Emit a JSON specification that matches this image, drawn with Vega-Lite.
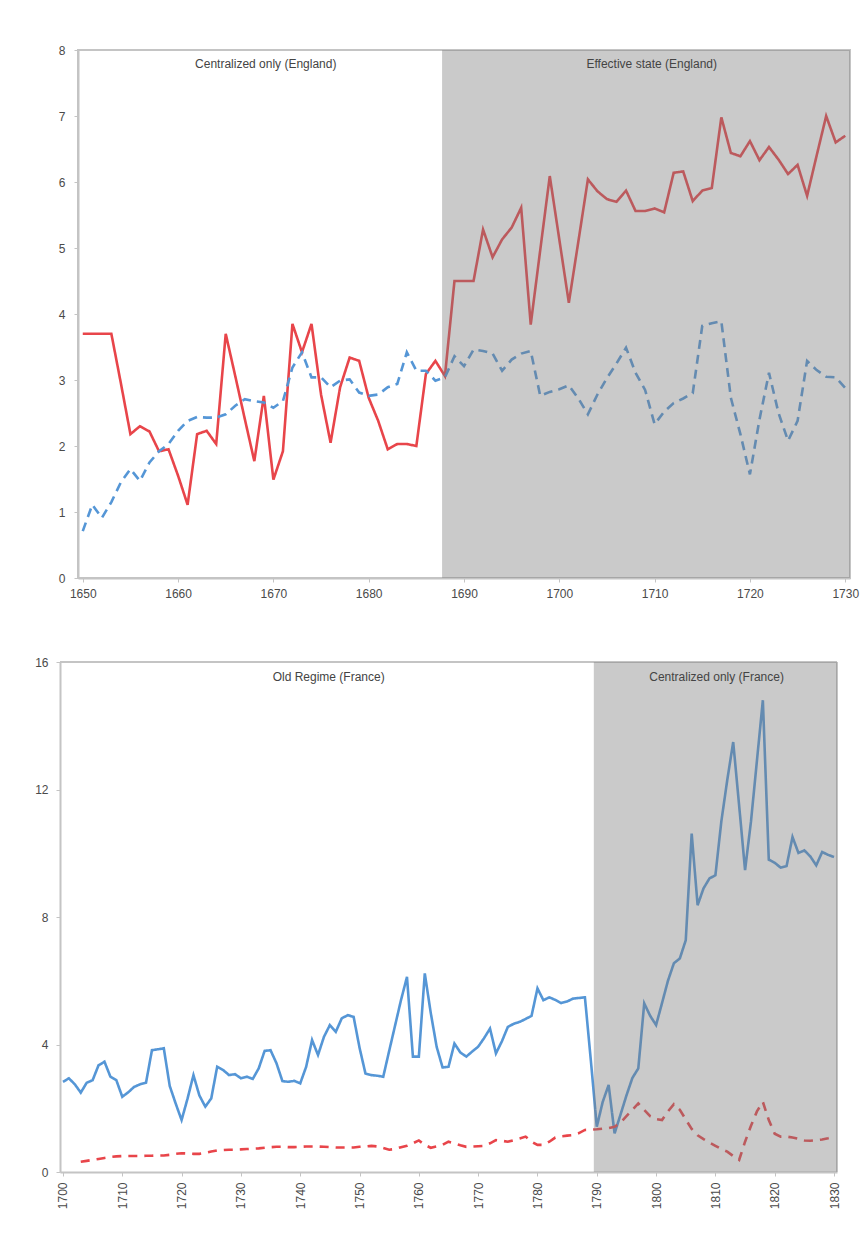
{
  "$schema": "https://vega.github.io/schema/vega-lite/v6.json",
  "background": "white",
  "padding": {"left": 34, "top": 43, "right": 10, "bottom": 10},
  "spacing": 56,
  "resolve": {"scale": {"color": "independent", "strokeDash": "independent"}},
  "config": {
    "view": {"stroke": "#c4c4c4", "strokeWidth": 2},
    "axis": {"labelFont": "Liberation Sans", "labelFontSize": 12, "labelColor": "#4a4a4a", "domainColor": "#c4c4c4", "domainWidth": 2, "tickColor": "#c4c4c4", "tickSize": 4, "grid": false, "title": null},
    "text": {"font": "Liberation Sans", "fontSize": 12, "color": "#444444"}
  },
  "datasets": {
    "england": [
      {"year":1650,"series":"A","value":3.70},{"year":1651,"series":"A","value":3.70},{"year":1652,"series":"A","value":3.70},{"year":1653,"series":"A","value":3.70},{"year":1654,"series":"A","value":2.95},{"year":1655,"series":"A","value":2.18},{"year":1656,"series":"A","value":2.30},{"year":1657,"series":"A","value":2.22},{"year":1658,"series":"A","value":1.92},{"year":1659,"series":"A","value":1.95},{"year":1660,"series":"A","value":1.55},{"year":1661,"series":"A","value":1.11},{"year":1662,"series":"A","value":2.18},{"year":1663,"series":"A","value":2.23},{"year":1664,"series":"A","value":2.03},{"year":1665,"series":"A","value":3.70},{"year":1666,"series":"A","value":3.06},{"year":1667,"series":"A","value":2.41},{"year":1668,"series":"A","value":1.77},{"year":1669,"series":"A","value":2.76},{"year":1670,"series":"A","value":1.49},{"year":1671,"series":"A","value":1.92},{"year":1672,"series":"A","value":3.85},{"year":1673,"series":"A","value":3.42},{"year":1674,"series":"A","value":3.85},{"year":1675,"series":"A","value":2.78},{"year":1676,"series":"A","value":2.05},{"year":1677,"series":"A","value":2.89},{"year":1678,"series":"A","value":3.34},{"year":1679,"series":"A","value":3.29},{"year":1680,"series":"A","value":2.73},{"year":1681,"series":"A","value":2.38},{"year":1682,"series":"A","value":1.95},{"year":1683,"series":"A","value":2.03},{"year":1684,"series":"A","value":2.03},{"year":1685,"series":"A","value":2.00},{"year":1686,"series":"A","value":3.09},{"year":1687,"series":"A","value":3.29},{"year":1688,"series":"A","value":3.06},{"year":1689,"series":"A","value":4.50},{"year":1690,"series":"A","value":4.50},{"year":1691,"series":"A","value":4.50},{"year":1692,"series":"A","value":5.28},{"year":1693,"series":"A","value":4.86},{"year":1694,"series":"A","value":5.13},{"year":1695,"series":"A","value":5.31},{"year":1696,"series":"A","value":5.61},{"year":1697,"series":"A","value":3.84},{"year":1698,"series":"A","value":4.97},{"year":1699,"series":"A","value":6.09},{"year":1700,"series":"A","value":5.13},{"year":1701,"series":"A","value":4.17},{"year":1702,"series":"A","value":5.10},{"year":1703,"series":"A","value":6.04},{"year":1704,"series":"A","value":5.86},{"year":1705,"series":"A","value":5.74},{"year":1706,"series":"A","value":5.70},{"year":1707,"series":"A","value":5.87},{"year":1708,"series":"A","value":5.56},{"year":1709,"series":"A","value":5.56},{"year":1710,"series":"A","value":5.60},{"year":1711,"series":"A","value":5.54},{"year":1712,"series":"A","value":6.14},{"year":1713,"series":"A","value":6.16},{"year":1714,"series":"A","value":5.71},{"year":1715,"series":"A","value":5.87},{"year":1716,"series":"A","value":5.91},{"year":1717,"series":"A","value":6.98},{"year":1718,"series":"A","value":6.44},{"year":1719,"series":"A","value":6.39},{"year":1720,"series":"A","value":6.62},{"year":1721,"series":"A","value":6.33},{"year":1722,"series":"A","value":6.53},{"year":1723,"series":"A","value":6.34},{"year":1724,"series":"A","value":6.12},{"year":1725,"series":"A","value":6.26},{"year":1726,"series":"A","value":5.79},{"year":1727,"series":"A","value":6.40},{"year":1728,"series":"A","value":7.00},{"year":1729,"series":"A","value":6.60},{"year":1730,"series":"A","value":6.70},
      {"year":1650,"series":"B","value":0.71},{"year":1651,"series":"B","value":1.11},{"year":1652,"series":"B","value":0.91},{"year":1653,"series":"B","value":1.15},{"year":1654,"series":"B","value":1.45},{"year":1655,"series":"B","value":1.65},{"year":1656,"series":"B","value":1.47},{"year":1657,"series":"B","value":1.75},{"year":1658,"series":"B","value":1.92},{"year":1659,"series":"B","value":2.03},{"year":1660,"series":"B","value":2.23},{"year":1661,"series":"B","value":2.38},{"year":1662,"series":"B","value":2.44},{"year":1663,"series":"B","value":2.43},{"year":1664,"series":"B","value":2.43},{"year":1665,"series":"B","value":2.48},{"year":1666,"series":"B","value":2.61},{"year":1667,"series":"B","value":2.71},{"year":1668,"series":"B","value":2.68},{"year":1669,"series":"B","value":2.66},{"year":1670,"series":"B","value":2.58},{"year":1671,"series":"B","value":2.68},{"year":1672,"series":"B","value":3.19},{"year":1673,"series":"B","value":3.42},{"year":1674,"series":"B","value":3.04},{"year":1675,"series":"B","value":3.04},{"year":1676,"series":"B","value":2.89},{"year":1677,"series":"B","value":2.99},{"year":1678,"series":"B","value":3.01},{"year":1679,"series":"B","value":2.81},{"year":1680,"series":"B","value":2.76},{"year":1681,"series":"B","value":2.78},{"year":1682,"series":"B","value":2.89},{"year":1683,"series":"B","value":2.94},{"year":1684,"series":"B","value":3.42},{"year":1685,"series":"B","value":3.14},{"year":1686,"series":"B","value":3.14},{"year":1687,"series":"B","value":2.99},{"year":1688,"series":"B","value":3.04},{"year":1689,"series":"B","value":3.36},{"year":1690,"series":"B","value":3.21},{"year":1691,"series":"B","value":3.46},{"year":1692,"series":"B","value":3.44},{"year":1693,"series":"B","value":3.40},{"year":1694,"series":"B","value":3.14},{"year":1695,"series":"B","value":3.31},{"year":1696,"series":"B","value":3.40},{"year":1697,"series":"B","value":3.44},{"year":1698,"series":"B","value":2.76},{"year":1699,"series":"B","value":2.82},{"year":1700,"series":"B","value":2.86},{"year":1701,"series":"B","value":2.92},{"year":1702,"series":"B","value":2.72},{"year":1703,"series":"B","value":2.48},{"year":1704,"series":"B","value":2.78},{"year":1705,"series":"B","value":3.03},{"year":1706,"series":"B","value":3.25},{"year":1707,"series":"B","value":3.49},{"year":1708,"series":"B","value":3.11},{"year":1709,"series":"B","value":2.85},{"year":1710,"series":"B","value":2.33},{"year":1711,"series":"B","value":2.52},{"year":1712,"series":"B","value":2.65},{"year":1713,"series":"B","value":2.72},{"year":1714,"series":"B","value":2.80},{"year":1715,"series":"B","value":3.82},{"year":1716,"series":"B","value":3.86},{"year":1717,"series":"B","value":3.89},{"year":1718,"series":"B","value":2.73},{"year":1719,"series":"B","value":2.18},{"year":1720,"series":"B","value":1.57},{"year":1721,"series":"B","value":2.40},{"year":1722,"series":"B","value":3.11},{"year":1723,"series":"B","value":2.50},{"year":1724,"series":"B","value":2.08},{"year":1725,"series":"B","value":2.38},{"year":1726,"series":"B","value":3.29},{"year":1727,"series":"B","value":3.15},{"year":1728,"series":"B","value":3.05},{"year":1729,"series":"B","value":3.04},{"year":1730,"series":"B","value":2.88}
    ],
    "france": [
      {"year":1700,"series":"A","value":2.83},{"year":1701,"series":"A","value":2.94},{"year":1702,"series":"A","value":2.75},{"year":1703,"series":"A","value":2.49},{"year":1704,"series":"A","value":2.80},{"year":1705,"series":"A","value":2.88},{"year":1706,"series":"A","value":3.35},{"year":1707,"series":"A","value":3.46},{"year":1708,"series":"A","value":2.99},{"year":1709,"series":"A","value":2.88},{"year":1710,"series":"A","value":2.36},{"year":1711,"series":"A","value":2.50},{"year":1712,"series":"A","value":2.67},{"year":1713,"series":"A","value":2.75},{"year":1714,"series":"A","value":2.80},{"year":1715,"series":"A","value":3.82},{"year":1716,"series":"A","value":3.85},{"year":1717,"series":"A","value":3.88},{"year":1718,"series":"A","value":2.70},{"year":1719,"series":"A","value":2.15},{"year":1720,"series":"A","value":1.63},{"year":1721,"series":"A","value":2.30},{"year":1722,"series":"A","value":3.04},{"year":1723,"series":"A","value":2.40},{"year":1724,"series":"A","value":2.05},{"year":1725,"series":"A","value":2.31},{"year":1726,"series":"A","value":3.30},{"year":1727,"series":"A","value":3.20},{"year":1728,"series":"A","value":3.04},{"year":1729,"series":"A","value":3.07},{"year":1730,"series":"A","value":2.94},{"year":1731,"series":"A","value":2.99},{"year":1732,"series":"A","value":2.92},{"year":1733,"series":"A","value":3.25},{"year":1734,"series":"A","value":3.80},{"year":1735,"series":"A","value":3.82},{"year":1736,"series":"A","value":3.41},{"year":1737,"series":"A","value":2.85},{"year":1738,"series":"A","value":2.83},{"year":1739,"series":"A","value":2.86},{"year":1740,"series":"A","value":2.78},{"year":1741,"series":"A","value":3.30},{"year":1742,"series":"A","value":4.14},{"year":1743,"series":"A","value":3.67},{"year":1744,"series":"A","value":4.24},{"year":1745,"series":"A","value":4.61},{"year":1746,"series":"A","value":4.40},{"year":1747,"series":"A","value":4.82},{"year":1748,"series":"A","value":4.92},{"year":1749,"series":"A","value":4.87},{"year":1750,"series":"A","value":3.90},{"year":1751,"series":"A","value":3.09},{"year":1752,"series":"A","value":3.04},{"year":1753,"series":"A","value":3.02},{"year":1754,"series":"A","value":2.99},{"year":1755,"series":"A","value":3.80},{"year":1756,"series":"A","value":4.60},{"year":1757,"series":"A","value":5.40},{"year":1758,"series":"A","value":6.12},{"year":1759,"series":"A","value":3.62},{"year":1760,"series":"A","value":3.62},{"year":1761,"series":"A","value":6.23},{"year":1762,"series":"A","value":5.00},{"year":1763,"series":"A","value":3.93},{"year":1764,"series":"A","value":3.28},{"year":1765,"series":"A","value":3.30},{"year":1766,"series":"A","value":4.03},{"year":1767,"series":"A","value":3.75},{"year":1768,"series":"A","value":3.62},{"year":1769,"series":"A","value":3.78},{"year":1770,"series":"A","value":3.93},{"year":1771,"series":"A","value":4.20},{"year":1772,"series":"A","value":4.50},{"year":1773,"series":"A","value":3.72},{"year":1774,"series":"A","value":4.10},{"year":1775,"series":"A","value":4.55},{"year":1776,"series":"A","value":4.65},{"year":1777,"series":"A","value":4.71},{"year":1778,"series":"A","value":4.80},{"year":1779,"series":"A","value":4.90},{"year":1780,"series":"A","value":5.76},{"year":1781,"series":"A","value":5.39},{"year":1782,"series":"A","value":5.48},{"year":1783,"series":"A","value":5.40},{"year":1784,"series":"A","value":5.30},{"year":1785,"series":"A","value":5.35},{"year":1786,"series":"A","value":5.44},{"year":1787,"series":"A","value":5.46},{"year":1788,"series":"A","value":5.48},{"year":1789,"series":"A","value":3.50},{"year":1790,"series":"A","value":1.42},{"year":1791,"series":"A","value":2.20},{"year":1792,"series":"A","value":2.73},{"year":1793,"series":"A","value":1.21},{"year":1794,"series":"A","value":1.80},{"year":1795,"series":"A","value":2.40},{"year":1796,"series":"A","value":2.95},{"year":1797,"series":"A","value":3.25},{"year":1798,"series":"A","value":5.29},{"year":1799,"series":"A","value":4.90},{"year":1800,"series":"A","value":4.61},{"year":1801,"series":"A","value":5.30},{"year":1802,"series":"A","value":6.00},{"year":1803,"series":"A","value":6.55},{"year":1804,"series":"A","value":6.70},{"year":1805,"series":"A","value":7.27},{"year":1806,"series":"A","value":10.62},{"year":1807,"series":"A","value":8.37},{"year":1808,"series":"A","value":8.90},{"year":1809,"series":"A","value":9.21},{"year":1810,"series":"A","value":9.31},{"year":1811,"series":"A","value":11.00},{"year":1812,"series":"A","value":12.30},{"year":1813,"series":"A","value":13.49},{"year":1814,"series":"A","value":11.50},{"year":1815,"series":"A","value":9.47},{"year":1816,"series":"A","value":11.00},{"year":1817,"series":"A","value":12.90},{"year":1818,"series":"A","value":14.80},{"year":1819,"series":"A","value":9.80},{"year":1820,"series":"A","value":9.70},{"year":1821,"series":"A","value":9.55},{"year":1822,"series":"A","value":9.60},{"year":1823,"series":"A","value":10.51},{"year":1824,"series":"A","value":10.01},{"year":1825,"series":"A","value":10.09},{"year":1826,"series":"A","value":9.90},{"year":1827,"series":"A","value":9.62},{"year":1828,"series":"A","value":10.04},{"year":1829,"series":"A","value":9.95},{"year":1830,"series":"A","value":9.88},
      {"year":1703,"series":"B","value":0.32},{"year":1704,"series":"B","value":0.35},{"year":1705,"series":"B","value":0.38},{"year":1706,"series":"B","value":0.41},{"year":1707,"series":"B","value":0.44},{"year":1708,"series":"B","value":0.47},{"year":1709,"series":"B","value":0.49},{"year":1710,"series":"B","value":0.50},{"year":1711,"series":"B","value":0.50},{"year":1712,"series":"B","value":0.50},{"year":1713,"series":"B","value":0.50},{"year":1714,"series":"B","value":0.51},{"year":1715,"series":"B","value":0.51},{"year":1716,"series":"B","value":0.52},{"year":1717,"series":"B","value":0.52},{"year":1718,"series":"B","value":0.54},{"year":1719,"series":"B","value":0.57},{"year":1720,"series":"B","value":0.59},{"year":1721,"series":"B","value":0.58},{"year":1722,"series":"B","value":0.57},{"year":1723,"series":"B","value":0.57},{"year":1724,"series":"B","value":0.60},{"year":1725,"series":"B","value":0.64},{"year":1726,"series":"B","value":0.68},{"year":1727,"series":"B","value":0.69},{"year":1728,"series":"B","value":0.70},{"year":1729,"series":"B","value":0.70},{"year":1730,"series":"B","value":0.71},{"year":1731,"series":"B","value":0.72},{"year":1732,"series":"B","value":0.73},{"year":1733,"series":"B","value":0.74},{"year":1734,"series":"B","value":0.76},{"year":1735,"series":"B","value":0.78},{"year":1736,"series":"B","value":0.79},{"year":1737,"series":"B","value":0.79},{"year":1738,"series":"B","value":0.78},{"year":1739,"series":"B","value":0.78},{"year":1740,"series":"B","value":0.79},{"year":1741,"series":"B","value":0.80},{"year":1742,"series":"B","value":0.80},{"year":1743,"series":"B","value":0.80},{"year":1744,"series":"B","value":0.79},{"year":1745,"series":"B","value":0.78},{"year":1746,"series":"B","value":0.77},{"year":1747,"series":"B","value":0.77},{"year":1748,"series":"B","value":0.77},{"year":1749,"series":"B","value":0.77},{"year":1750,"series":"B","value":0.79},{"year":1751,"series":"B","value":0.80},{"year":1752,"series":"B","value":0.82},{"year":1753,"series":"B","value":0.80},{"year":1754,"series":"B","value":0.75},{"year":1755,"series":"B","value":0.70},{"year":1756,"series":"B","value":0.72},{"year":1757,"series":"B","value":0.78},{"year":1758,"series":"B","value":0.82},{"year":1759,"series":"B","value":0.90},{"year":1760,"series":"B","value":0.99},{"year":1761,"series":"B","value":0.85},{"year":1762,"series":"B","value":0.76},{"year":1763,"series":"B","value":0.80},{"year":1764,"series":"B","value":0.85},{"year":1765,"series":"B","value":0.95},{"year":1766,"series":"B","value":0.90},{"year":1767,"series":"B","value":0.84},{"year":1768,"series":"B","value":0.79},{"year":1769,"series":"B","value":0.80},{"year":1770,"series":"B","value":0.81},{"year":1771,"series":"B","value":0.82},{"year":1772,"series":"B","value":0.90},{"year":1773,"series":"B","value":1.00},{"year":1774,"series":"B","value":0.98},{"year":1775,"series":"B","value":0.95},{"year":1776,"series":"B","value":1.00},{"year":1777,"series":"B","value":1.05},{"year":1778,"series":"B","value":1.11},{"year":1779,"series":"B","value":0.95},{"year":1780,"series":"B","value":0.85},{"year":1781,"series":"B","value":0.85},{"year":1782,"series":"B","value":0.95},{"year":1783,"series":"B","value":1.08},{"year":1784,"series":"B","value":1.12},{"year":1785,"series":"B","value":1.14},{"year":1786,"series":"B","value":1.16},{"year":1787,"series":"B","value":1.22},{"year":1788,"series":"B","value":1.32},{"year":1789,"series":"B","value":1.33},{"year":1790,"series":"B","value":1.34},{"year":1791,"series":"B","value":1.36},{"year":1792,"series":"B","value":1.38},{"year":1793,"series":"B","value":1.42},{"year":1794,"series":"B","value":1.55},{"year":1795,"series":"B","value":1.75},{"year":1796,"series":"B","value":1.95},{"year":1797,"series":"B","value":2.15},{"year":1798,"series":"B","value":1.95},{"year":1799,"series":"B","value":1.75},{"year":1800,"series":"B","value":1.66},{"year":1801,"series":"B","value":1.63},{"year":1802,"series":"B","value":1.90},{"year":1803,"series":"B","value":2.13},{"year":1804,"series":"B","value":1.95},{"year":1805,"series":"B","value":1.65},{"year":1806,"series":"B","value":1.35},{"year":1807,"series":"B","value":1.15},{"year":1808,"series":"B","value":1.03},{"year":1809,"series":"B","value":0.92},{"year":1810,"series":"B","value":0.82},{"year":1811,"series":"B","value":0.72},{"year":1812,"series":"B","value":0.64},{"year":1813,"series":"B","value":0.50},{"year":1814,"series":"B","value":0.38},{"year":1815,"series":"B","value":0.95},{"year":1816,"series":"B","value":1.45},{"year":1817,"series":"B","value":1.90},{"year":1818,"series":"B","value":2.20},{"year":1819,"series":"B","value":1.63},{"year":1820,"series":"B","value":1.20},{"year":1821,"series":"B","value":1.11},{"year":1822,"series":"B","value":1.11},{"year":1823,"series":"B","value":1.08},{"year":1824,"series":"B","value":1.04},{"year":1825,"series":"B","value":0.99},{"year":1826,"series":"B","value":0.98},{"year":1827,"series":"B","value":1.00},{"year":1828,"series":"B","value":1.02},{"year":1829,"series":"B","value":1.06},{"year":1830,"series":"B","value":1.11}
    ],
    "englandShade": [{"start": 1687.7, "end": 1730.5}],
    "franceShade": [{"start": 1789.5, "end": 1830.5}],
    "franceFrameTop": [{"start": 1699.5, "end": 1830.5, "value": 16}],
    "franceFrameRight": [{"year": 1830.5, "low": 0, "high": 16}],
    "englandLabels": [
      {"year": 1669.2, "value": 7.79, "label": "Centralized only (England)"},
      {"year": 1709.7, "value": 7.79, "label": "Effective state (England)"}
    ],
    "franceLabels": [
      {"year": 1744.8, "value": 15.52, "label": "Old Regime (France)"},
      {"year": 1810.2, "value": 15.52, "label": "Centralized only (France)"}
    ]
  },
  "vconcat": [
    {
      "width": 772,
      "height": 528,
      "layer": [
        {
          "data": {"name": "england"},
          "mark": {"type": "line", "strokeWidth": 2.6},
          "encoding": {
            "x": {"field": "year", "type": "quantitative", "scale": {"domain": [1649.5, 1730.5], "nice": false, "zero": false}, "axis": {"values": [1650,1660,1670,1680,1690,1700,1710,1720,1730], "format": "d", "labelPadding": 6}},
            "y": {"field": "value", "type": "quantitative", "scale": {"domain": [0, 8], "nice": false}, "axis": {"values": [0,1,2,3,4,5,6,7,8], "format": "d", "labelPadding": 9}},
            "color": {"field": "series", "type": "nominal", "scale": {"domain": ["A", "B"], "range": ["#e8454a", "#5596d6"]}, "legend": null},
            "strokeDash": {"field": "series", "type": "nominal", "scale": {"domain": ["A", "B"], "range": [[1, 0], [9, 6]]}, "legend": null}
          }
        },
        {
          "data": {"name": "englandShade"},
          "mark": {"type": "rect", "color": "#7a7a7a", "opacity": 0.4},
          "encoding": {
            "x": {"field": "start", "type": "quantitative"},
            "x2": {"field": "end"}
          }
        },
        {
          "data": {"name": "englandLabels"},
          "mark": {"type": "text", "baseline": "middle", "align": "center"},
          "encoding": {
            "x": {"field": "year", "type": "quantitative"},
            "y": {"field": "value", "type": "quantitative"},
            "text": {"field": "label"}
          }
        }
      ]
    },
    {
      "width": 759,
      "height": 510,
      "view": {"stroke": null},
      "layer": [
        {
          "data": {"name": "france"},
          "mark": {"type": "line", "strokeWidth": 2.6},
          "encoding": {
            "x": {"field": "year", "type": "quantitative", "scale": {"domain": [1699.5, 1830.5], "range": [-18, 759], "nice": false, "zero": false}, "axis": {"values": [1700,1710,1720,1730,1740,1750,1760,1770,1780,1790,1800,1810,1820,1830], "format": "d", "labelAngle": 270, "labelPadding": 6}},
            "y": {"field": "value", "type": "quantitative", "scale": {"domain": [0, 16], "nice": false}, "axis": {"values": [0,4,8,12,16], "format": "d", "labelPadding": 8, "offset": 18}},
            "color": {"field": "series", "type": "nominal", "scale": {"domain": ["A", "B"], "range": ["#5596d6", "#e8454a"]}, "legend": null},
            "strokeDash": {"field": "series", "type": "nominal", "scale": {"domain": ["A", "B"], "range": [[1, 0], [9, 7]]}, "legend": null}
          }
        },
        {
          "data": {"name": "franceFrameTop"},
          "mark": {"type": "rule", "color": "#c4c4c4", "strokeWidth": 2},
          "encoding": {
            "x": {"field": "start", "type": "quantitative"},
            "x2": {"field": "end"},
            "y": {"field": "value", "type": "quantitative"}
          }
        },
        {
          "data": {"name": "franceFrameRight"},
          "mark": {"type": "rule", "color": "#c4c4c4", "strokeWidth": 2},
          "encoding": {
            "x": {"field": "year", "type": "quantitative"},
            "y": {"field": "low", "type": "quantitative"},
            "y2": {"field": "high"}
          }
        },
        {
          "data": {"name": "franceShade"},
          "mark": {"type": "rect", "color": "#7a7a7a", "opacity": 0.4},
          "encoding": {
            "x": {"field": "start", "type": "quantitative"},
            "x2": {"field": "end"}
          }
        },
        {
          "data": {"name": "franceLabels"},
          "mark": {"type": "text", "baseline": "middle", "align": "center"},
          "encoding": {
            "x": {"field": "year", "type": "quantitative"},
            "y": {"field": "value", "type": "quantitative"},
            "text": {"field": "label"}
          }
        }
      ]
    }
  ]
}
